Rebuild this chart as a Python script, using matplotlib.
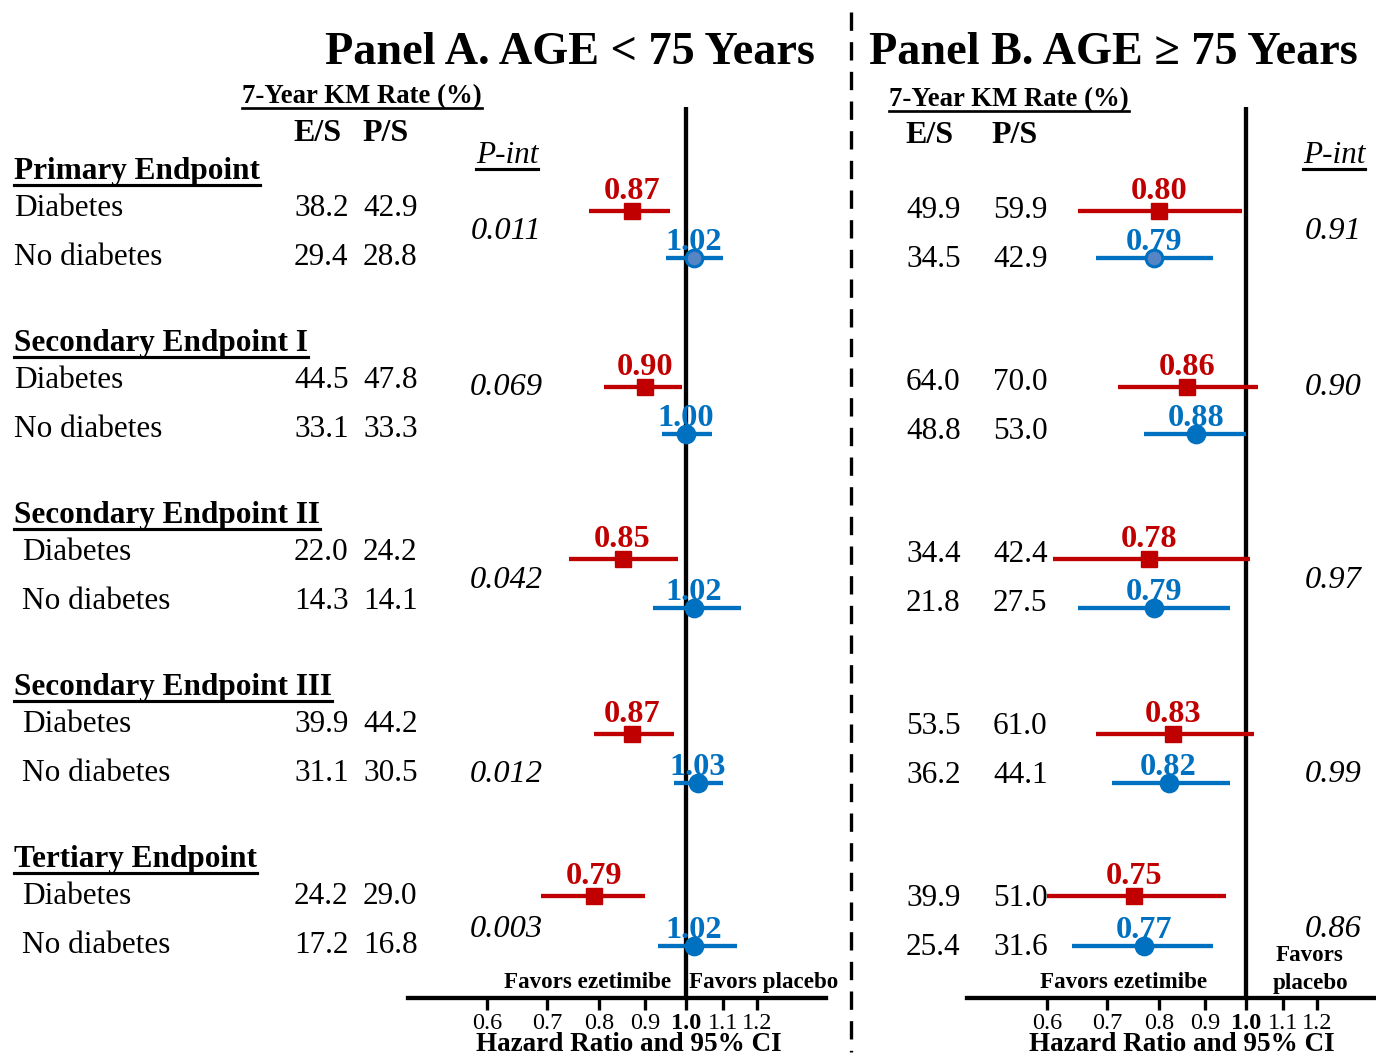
import numpy as np
import matplotlib
matplotlib.use("Agg")
import matplotlib.pyplot as plt
from matplotlib.lines import Line2D
from matplotlib.ticker import NullLocator

plt.rcParams["font.family"] = ["Liberation Serif", "DejaVu Serif"]

# ---------------------------------------------------------------- data
endpoints = ["Primary Endpoint", "Secondary Endpoint I", "Secondary Endpoint II",
             "Secondary Endpoint III", "Tertiary Endpoint"]
subgroups = ["Diabetes", "No diabetes"]

# Panel A: age < 75 years
young_es_dm = [38.2, 44.5, 22.0, 39.9, 24.2]
young_ps_dm = [42.9, 47.8, 24.2, 44.2, 29.0]
young_es_nodm = [29.4, 33.1, 14.3, 31.1, 17.2]
young_ps_nodm = [28.8, 33.3, 14.1, 30.5, 16.8]
young_hr_dm = [0.87, 0.90, 0.85, 0.87, 0.79]
young_lo_dm = [0.78, 0.81, 0.74, 0.79, 0.69]
young_hi_dm = [0.96, 0.99, 0.98, 0.97, 0.90]
young_hr_nodm = [1.02, 1.00, 1.02, 1.03, 1.02]
young_lo_nodm = [0.95, 0.94, 0.92, 0.97, 0.93]
young_hi_nodm = [1.10, 1.07, 1.15, 1.10, 1.14]
young_pint = ["0.011", "0.069", "0.042", "0.012", "0.003"]

# Panel B: age >= 75 years
old_es_dm = [49.9, 64.0, 34.4, 53.5, 39.9]
old_ps_dm = [59.9, 70.0, 42.4, 61.0, 51.0]
old_es_nodm = [34.5, 48.8, 21.8, 36.2, 25.4]
old_ps_nodm = [42.9, 53.0, 27.5, 44.1, 31.6]
old_hr_dm = [0.80, 0.86, 0.78, 0.83, 0.75]
old_lo_dm = [0.65, 0.72, 0.61, 0.68, 0.60]
old_hi_dm = [0.99, 1.03, 1.01, 1.02, 0.95]
old_hr_nodm = [0.79, 0.88, 0.79, 0.82, 0.77]
old_lo_nodm = [0.68, 0.77, 0.65, 0.71, 0.64]
old_hi_nodm = [0.92, 1.00, 0.96, 0.96, 0.92]
old_pint = ["0.91", "0.90", "0.97", "0.99", "0.86"]

tick_values = [0.6, 0.7, 0.8, 0.9, 1.0, 1.1, 1.2]
tick_labels = ["0.6", "0.7", "0.8", "0.9", "1.0", "1.1", "1.2"]

# ---------------------------------------------------------------- layout (pixels, top origin)
W, H, DPI = 1376, 1055, 100
RED, BLUE = "#C00000", "#0070C0"
PX_PER_LOG = 390.0
BODY = 22.5

header_y = [169, 341, 513, 685, 857]
label_y_dm = [206, 378, 550, 722, 894]
label_y_nodm = [255, 427, 599, 771, 943]
label_x = [14, 14, 22, 22, 22]
mark_y_dm = [211, 387, 559, 734, 896]
mark_y_nodm = [258, 434, 608, 783, 946]
pint_y = [229, 385, 578, 772, 927]

fig = plt.figure(figsize=(W / DPI, H / DPI), dpi=DPI)
underlined = []


def ftext(x, y, s, size, weight="normal", style="normal", color="black",
          ha="left", underline=False, ul_gap=5):
    """Place text so that its capital letters are centred on pixel row y."""
    cap = 0.62 * size * DPI / 72.0
    base = y + cap / 2.0
    t = fig.text(x / W, 1 - base / H, s, fontsize=size, fontweight=weight,
                 fontstyle=style, color=color, ha=ha, va="baseline")
    if underline:
        underlined.append((t, base + ul_gap, size))
    return t


# ---------------------------------------------------------------- titles and column headers
ftext(570, 50, "Panel A. AGE < 75 Years", 33.3, weight="bold", ha="center")
ftext(1113, 50, "Panel B. AGE \u2265 75 Years", 33.3, weight="bold", ha="center")

ftext(362, 95, "7-Year KM Rate (%)", 19.3, weight="bold", ha="center", underline=True, ul_gap=5)
ftext(1009, 98, "7-Year KM Rate (%)", 19.3, weight="bold", ha="center", underline=True, ul_gap=5)
ftext(317, 131, "E/S", 23, weight="bold", ha="center")
ftext(386, 131, "P/S", 23, weight="bold", ha="center")
ftext(929, 133, "E/S", 23, weight="bold", ha="center")
ftext(1015, 133, "P/S", 23, weight="bold", ha="center")
ftext(507, 153, "P-int", 22.5, style="italic", ha="center", underline=True, ul_gap=6)
ftext(1334, 153, "P-int", 22.5, style="italic", ha="center", underline=True, ul_gap=6)

# ---------------------------------------------------------------- row labels and rates
for i, name in enumerate(endpoints):
    ftext(14, header_y[i], name, BODY, weight="bold", underline=True, ul_gap=6)
    ftext(label_x[i], label_y_dm[i], subgroups[0], BODY)
    ftext(label_x[i], label_y_nodm[i], subgroups[1], BODY)

    ftext(294, label_y_dm[i], f"{young_es_dm[i]:.1f}", BODY)
    ftext(363, label_y_dm[i], f"{young_ps_dm[i]:.1f}", BODY)
    ftext(294, label_y_nodm[i], f"{young_es_nodm[i]:.1f}", BODY)
    ftext(363, label_y_nodm[i], f"{young_ps_nodm[i]:.1f}", BODY)

    ftext(906, label_y_dm[i] + 2, f"{old_es_dm[i]:.1f}", BODY)
    ftext(993, label_y_dm[i] + 2, f"{old_ps_dm[i]:.1f}", BODY)
    ftext(906, label_y_nodm[i] + 2, f"{old_es_nodm[i]:.1f}", BODY)
    ftext(993, label_y_nodm[i] + 2, f"{old_ps_nodm[i]:.1f}", BODY)

    ftext(506, pint_y[i], young_pint[i], 23.3, style="italic", ha="center")
    ftext(1333, pint_y[i], old_pint[i], 23.3, style="italic", ha="center")


# ---------------------------------------------------------------- forest panels
def forest(x0, x1, xref, hr_dm, lo_dm, hi_dm, hr_nd, lo_nd, hi_nd):
    top, bottom = 107, 998
    ax = fig.add_axes([x0 / W, 1 - bottom / H, (x1 - x0) / W, (bottom - top) / H])
    ax.set_xscale("log")
    ax.set_xlim(np.exp((x0 - xref) / PX_PER_LOG), np.exp((x1 - xref) / PX_PER_LOG))
    ax.set_ylim(bottom, top)
    ax.patch.set_visible(False)
    for side in ("top", "left", "right"):
        ax.spines[side].set_visible(False)
    ax.spines["bottom"].set_linewidth(3.1)
    ax.axvline(1.0, color="black", lw=3.1, zorder=1)

    ax.set_yticks([])
    ax.xaxis.set_minor_locator(NullLocator())
    ax.set_xticks(tick_values)
    ax.set_xticklabels(tick_labels)
    ax.tick_params(axis="x", length=8.5, width=2.4, pad=2.5, labelsize=17.5,
                   direction="out")
    for lab in ax.get_xticklabels():
        if lab.get_text() == "1.0":
            lab.set_fontweight("bold")

    size = 23.3
    cap = 0.66 * size * DPI / 72.0
    for i in range(len(hr_dm)):
        # diabetes: red square
        ax.hlines(mark_y_dm[i], lo_dm[i], hi_dm[i], color=RED, lw=3.1, zorder=2)
        ax.plot(hr_dm[i], mark_y_dm[i], marker="s", ms=11.5, color=RED,
                zorder=3, clip_on=False)
        ax.annotate(f"{hr_dm[i]:.2f}", (hr_dm[i], mark_y_dm[i]),
                    xytext=(0, (23 - cap / 2) * 72 / DPI), textcoords="offset points",
                    ha="center", va="baseline", color=RED, fontsize=size,
                    fontweight="bold", zorder=4)
        # no diabetes: blue circle
        ax.hlines(mark_y_nodm[i], lo_nd[i], hi_nd[i], color=BLUE, lw=3.1, zorder=2)
        face = "#5585C4" if i == 0 else BLUE
        ax.plot(hr_nd[i], mark_y_nodm[i], marker="o", ms=12, markerfacecolor=face,
                markeredgecolor=BLUE, markeredgewidth=2.2, zorder=3, clip_on=False)
        ax.annotate(f"{hr_nd[i]:.2f}", (hr_nd[i], mark_y_nodm[i]),
                    xytext=(0, (19 - cap / 2) * 72 / DPI), textcoords="offset points",
                    ha="center", va="baseline", color=BLUE, fontsize=size,
                    fontweight="bold", zorder=4)
    return ax


forest(408, 826, 686, young_hr_dm, young_lo_dm, young_hi_dm,
       young_hr_nodm, young_lo_nodm, young_hi_nodm)
forest(967, 1376, 1246, old_hr_dm, old_lo_dm, old_hi_dm,
       old_hr_nodm, old_lo_nodm, old_hi_nodm)

# direction labels and axis titles
FAV = 16.6
ftext(671, 981, "Favors ezetimibe", FAV, weight="bold", ha="right")
ftext(689, 981, "Favors placebo", FAV, weight="bold", ha="left")
ftext(1124, 981, "Favors ezetimibe", FAV, weight="bold", ha="center")
ftext(1310, 954, "Favors", FAV, weight="bold", ha="center")
ftext(1310, 982, "placebo", FAV, weight="bold", ha="center")
ftext(629, 1043, "Hazard Ratio and 95% CI", 19.5, weight="bold", ha="center")
ftext(1182, 1043, "Hazard Ratio and 95% CI", 19.5, weight="bold", ha="center")

# dashed divider between the two panels
fig.add_artist(Line2D([851 / W, 851 / W], [1 - 12 / H, 1 - 1052 / H],
                      transform=fig.transFigure, color="black", lw=2.4,
                      linestyle=(0, (5.5, 3.4))))

# underlines beneath headings
fig.canvas.draw()
renderer = fig.canvas.get_renderer()
for t, uy, size in underlined:
    bb = t.get_window_extent(renderer)
    fig.add_artist(Line2D([bb.x0 / W, bb.x1 / W], [1 - uy / H, 1 - uy / H],
                          transform=fig.transFigure, color="black",
                          lw=max(1.6, size * 0.1)))

fig.savefig("out.png", dpi=DPI)
